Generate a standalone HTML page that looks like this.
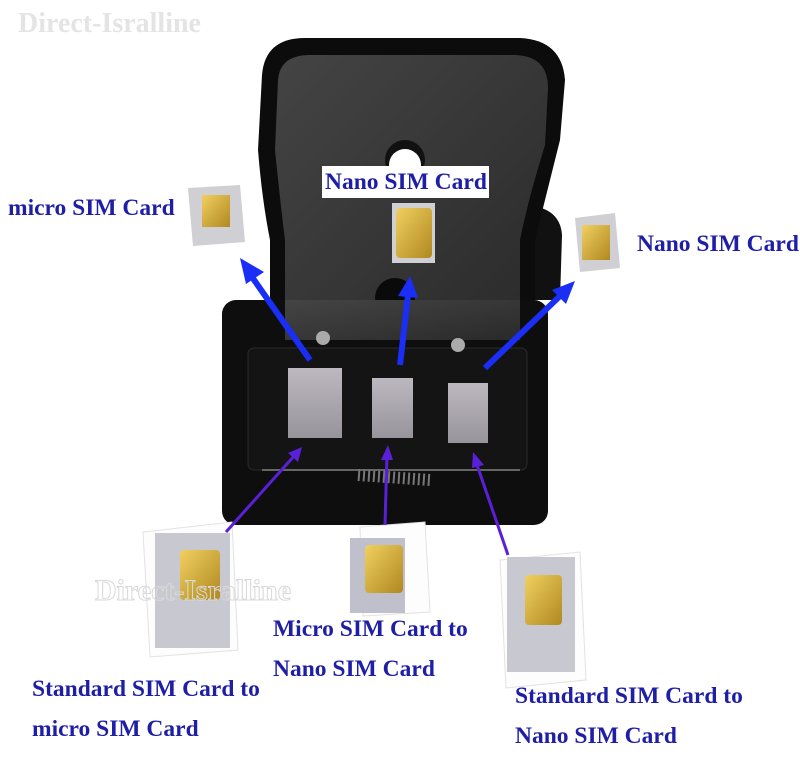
<!DOCTYPE html>
<html><head><meta charset="utf-8"><style>
body{margin:0;background:#fff;width:800px;height:770px;overflow:hidden;position:relative;font-family:"Liberation Serif",serif}
.t{position:absolute;font-weight:bold;font-size:23.5px;color:#1e1ea6;white-space:nowrap;line-height:1}
svg{position:absolute;left:0;top:0}
</style></head><body>
<svg width="800" height="770" viewBox="0 0 800 770">
<defs>
<linearGradient id="pl" x1="0" y1="0" x2="1" y2="1"><stop offset="0" stop-color="#444"/><stop offset="1" stop-color="#2a2a2a"/></linearGradient>
<linearGradient id="win" x1="0" y1="0" x2="0" y2="1"><stop offset="0" stop-color="#bdb8c0"/><stop offset="1" stop-color="#98949c"/></linearGradient>
<linearGradient id="chip" x1="0" y1="0" x2="1" y2="1"><stop offset="0" stop-color="#f0d060"/><stop offset="1" stop-color="#b08820"/></linearGradient>
</defs>
<text x="18" y="32" font-family="Liberation Serif" font-size="28" fill="#e4e4e4" font-weight="bold">Direct-Isralline</text>
<!-- right handle -->
<path d="M520 205 Q560 205 562 235 L560 300 L520 300 Z" fill="#111"/>
<!-- upper body hourglass -->
<path d="M262 75 Q265 38 305 38 L520 38 Q562 40 565 80 L560 140 Q545 200 535 240 L535 310 L270 310 L270 240 Q262 200 258 150 Z" fill="#0c0c0c"/>
<path d="M278 80 Q280 55 310 55 L515 55 Q548 56 548 88 L545 145 Q528 200 520 240 L520 330 L285 330 L285 240 Q280 200 275 150 Z" fill="url(#pl)"/>
<circle cx="405" cy="160" r="20" fill="#111"/>
<circle cx="405" cy="165" r="16" fill="#fff"/>
<circle cx="395" cy="298" r="20" fill="#0a0a0a"/>
<!-- lower body -->
<rect x="222" y="300" width="326" height="225" rx="14" fill="#0e0e0e"/>
<rect x="285" y="300" width="235" height="40" fill="url(#pl)"/>
<rect x="248" y="348" width="279" height="122" rx="6" fill="#141414" stroke="#2a2a2a"/>
<rect x="288" y="368" width="54" height="70" fill="url(#win)"/>
<rect x="372" y="378" width="41" height="60" fill="url(#win)"/>
<rect x="448" y="383" width="40" height="60" fill="url(#win)"/>
<circle cx="323" cy="338" r="7" fill="#aaa"/><circle cx="458" cy="345" r="7" fill="#aaa"/>
<path d="M262 470 L520 470" stroke="#666" stroke-width="2"/>
<path d="M358 475 L430 480" stroke="#777" stroke-width="12" stroke-dasharray="2 3"/>
<!-- small sims -->
<g><path d="M188 188 L240 185 L245 242 L193 246 Z" fill="#cfcfd4"/><rect x="202" y="195" width="28" height="32" fill="url(#chip)"/></g>
<g><rect x="392" y="203" width="43" height="60" fill="#cfcfd4"/><rect x="396" y="208" width="36" height="50" rx="4" fill="url(#chip)"/></g>
<g><path d="M575 218 L615 213 L620 268 L580 272 Z" fill="#cfcfd4"/><rect x="582" y="225" width="28" height="35" fill="url(#chip)"/></g>
<!-- big sims -->
<g><path d="M143 532 L232 522 L238 650 L150 657 Z" fill="#fdfdfd" stroke="#e2e2e2"/><rect x="155" y="533" width="75" height="115" fill="#c8c8d0"/><rect x="180" y="550" width="40" height="50" rx="4" fill="url(#chip)"/></g>
<g><path d="M360 527 L425 522 L430 612 L363 616 Z" fill="#fdfdfd" stroke="#e2e2e2"/><rect x="350" y="538" width="55" height="75" fill="#c0c0cc"/><rect x="365" y="545" width="38" height="48" rx="4" fill="url(#chip)"/></g>
<g><path d="M500 560 L580 552 L586 680 L506 688 Z" fill="#fdfdfd" stroke="#e2e2e2"/><rect x="507" y="557" width="68" height="115" fill="#c8c8d0"/><rect x="525" y="575" width="37" height="50" rx="4" fill="url(#chip)"/></g>
<text x="95" y="600" font-family="Liberation Serif" font-size="30" fill="none" stroke="#d8d8d8" stroke-width="1" font-weight="bold">Direct-Isralline</text>
<!-- blue arrows -->
<g stroke="#1a2ef5" stroke-width="6" fill="#1a2ef5">
<line x1="310" y1="360" x2="252" y2="277"/><polygon points="240,258 264,272 246,284" stroke="none"/>
<line x1="400" y1="365" x2="408" y2="295"/><polygon points="410,276 418,298 398,296" stroke="none"/>
<line x1="485" y1="368" x2="560" y2="296"/><polygon points="575,281 566,304 552,290" stroke="none"/>
</g>
<g stroke="#5a20d8" stroke-width="3" fill="#5a20d8">
<line x1="226" y1="532" x2="295" y2="455"/><polygon points="302,447 298,462 288,453" stroke="none"/>
<line x1="385" y1="525" x2="387" y2="455"/><polygon points="388,445 393,460 381,460" stroke="none"/>
<line x1="508" y1="555" x2="476" y2="462"/><polygon points="473,452 484,465 472,468" stroke="none"/>
</g>
<rect x="322" y="166" width="167" height="32" fill="#fff"/>
</svg>
<div class="t" style="left:8px;top:197px">micro SIM Card</div>
<div class="t" style="left:325px;top:171px">Nano SIM Card</div>
<div class="t" style="left:637px;top:233px">Nano SIM Card</div>
<div class="t" style="left:32px;top:678px">Standard SIM Card to</div>
<div class="t" style="left:32px;top:718px">micro SIM Card</div>
<div class="t" style="left:273px;top:618px">Micro SIM Card to</div>
<div class="t" style="left:273px;top:658px">Nano SIM Card</div>
<div class="t" style="left:515px;top:685px">Standard SIM Card to</div>
<div class="t" style="left:515px;top:725px">Nano SIM Card</div>
</body></html>
